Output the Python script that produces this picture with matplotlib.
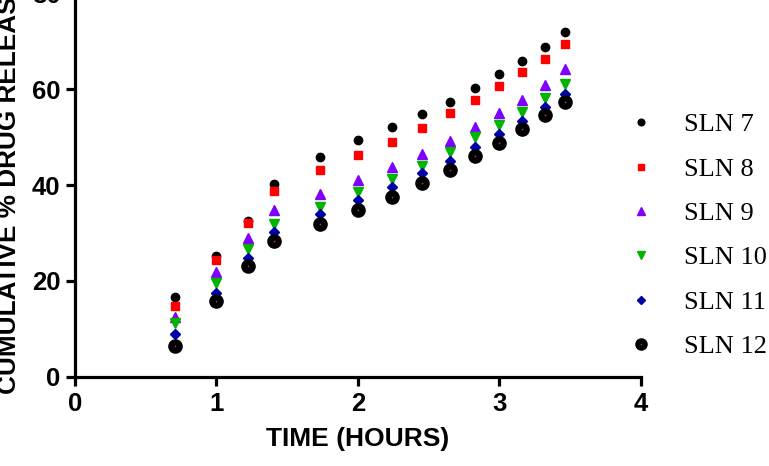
import matplotlib
matplotlib.use("Agg")
import matplotlib.pyplot as plt
from matplotlib.legend_handler import HandlerTuple

# Square root of time (Higuchi plot)
SQRT_TIME = [0.71, 1.0, 1.22, 1.41, 1.73, 2.0, 2.24, 2.45, 2.65, 2.83, 3.0, 3.16, 3.32, 3.46]

SLN7 = [16.7, 25.3, 32.6, 40.2, 45.8, 49.3, 52.0, 54.7, 57.3, 60.3, 63.1, 65.9, 68.8, 71.8]
SLN8 = [14.8, 24.3, 32.0, 38.7, 43.1, 46.2, 48.9, 51.9, 54.9, 57.7, 60.7, 63.5, 66.3, 69.3]
SLN9 = [12.4, 21.8, 29.0, 34.8, 38.1, 41.0, 43.8, 46.5, 49.2, 52.1, 55.0, 57.8, 60.9, 64.2]
SLN10 = [11.2, 19.6, 26.7, 31.9, 35.5, 38.5, 41.3, 44.0, 46.9, 49.9, 52.5, 55.3, 58.1, 61.0]
SLN11 = [9.0, 17.6, 24.7, 30.3, 33.9, 36.9, 39.6, 42.5, 45.1, 47.9, 50.6, 53.3, 56.2, 58.9]
SLN12 = [6.5, 15.8, 23.2, 28.3, 31.9, 34.8, 37.6, 40.4, 43.2, 46.0, 48.8, 51.6, 54.5, 57.2]

LABELS = ["SLN 7", "SLN 8", "SLN 9", "SLN 10", "SLN 11", "SLN 12"]
X_TICKS = [0, 1, 2, 3, 4]
Y_TICKS = [0, 20, 40, 60, 80]

SANS = ["Liberation Sans", "Arial", "DejaVu Sans"]
SERIF = ["Liberation Serif", "Times New Roman", "DejaVu Serif"]

fig = plt.figure(figsize=(7.69, 4.66), dpi=100)
ax = fig.add_axes([0.0975, 0.191, 0.736, 0.824])

styles = [
    dict(marker="o", color="black", ms=6.0),
    dict(marker="s", color="#ff0000", ms=5.8),
    dict(marker="^", color="#8000ff", ms=6.5),
    dict(marker="v", color="#00b400", ms=6.5),
    dict(marker="D", color="#0000a8", ms=5.2),
]
series = [SLN7, SLN8, SLN9, SLN10, SLN11]

for ys, st in zip(series, styles):
    ax.plot(SQRT_TIME, ys, linestyle="none", marker=st["marker"],
            color=st["color"], ms=st["ms"], mec=st["color"], clip_on=False)

# big circle with small red centre dot
ax.plot(SQRT_TIME, SLN12, linestyle="none", marker="o", color="black",
        ms=9.5, clip_on=False)
ax.plot(SQRT_TIME, SLN12, linestyle="none", marker="o", color="#b03050",
        ms=1.3, mew=0, clip_on=False)

ax.set_xlim(0, 4)
ax.set_ylim(0, 80)
ax.set_xticks(X_TICKS)
ax.set_yticks(Y_TICKS)

for s in ["top", "right"]:
    ax.spines[s].set_visible(False)
for s in ["left", "bottom"]:
    ax.spines[s].set_linewidth(2.3)

ax.tick_params(axis="both", direction="out", length=6.5, width=2.3, pad=4)
for lab in ax.get_xticklabels() + ax.get_yticklabels():
    lab.set_fontfamily(SANS)
    lab.set_fontweight("bold")
    lab.set_fontsize(18.5)

ax.set_xlabel("TIME (HOURS)", fontsize=19, fontweight="bold", family=SANS, labelpad=8)
fig.text(16 / 769, 1 - 187 / 466, "CUMULATIVE % DRUG RELEASE", rotation=90,
         rotation_mode="anchor", ha="center", va="baseline",
         fontsize=18.8, fontweight="bold", family=SANS)

# legend with smaller markers
leg_handles = []
for st in styles:
    h, = ax.plot([], [], linestyle="none", marker=st["marker"], color=st["color"],
                 ms=st["ms"] * 0.8)
    leg_handles.append(h)
lb, = ax.plot([], [], linestyle="none", marker="o", color="black", ms=8)
ld, = ax.plot([], [], linestyle="none", marker="o", color="#b03050", ms=1.2, mew=0)
leg_handles.append((lb, ld))

fig.legend(leg_handles, LABELS, loc="upper left",
           bbox_to_anchor=(628 / 769, 1 - 113 / 466),
           frameon=False, handlelength=1.0, handletextpad=1.12,
           labelspacing=0.79, borderaxespad=0, borderpad=0,
           handler_map={tuple: HandlerTuple(ndivide=1, pad=0)},
           prop={"family": SERIF, "size": 19})

fig.savefig("out.png", dpi=100, facecolor="white")
